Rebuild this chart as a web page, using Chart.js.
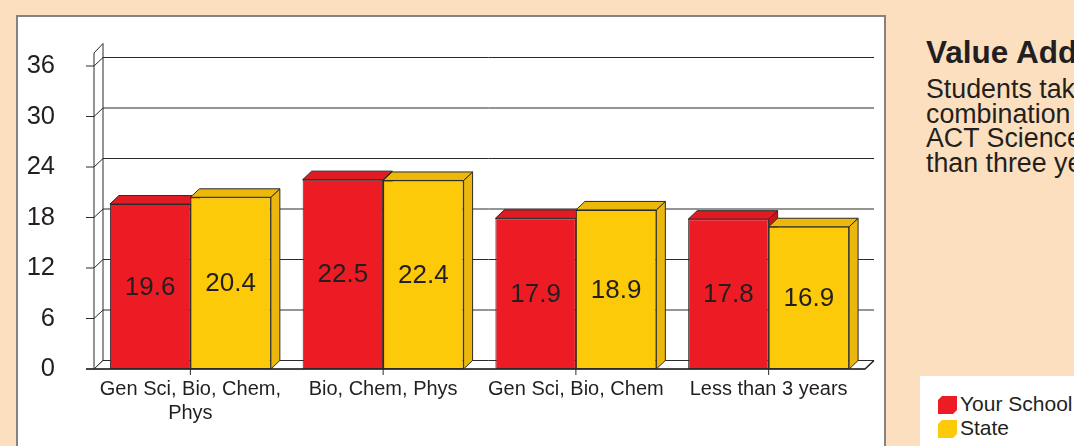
<!DOCTYPE html>
<html>
<head>
<meta charset="utf-8">
<script src="https://cdn.jsdelivr.net/npm/chart.js@4.4.1/dist/chart.umd.min.js"></script>
<style>
  html, body { margin:0; padding:0; width:1074px; height:446px; overflow:hidden; background:#fcdfbe; font-family: Arial, "Liberation Sans", Helvetica, sans-serif; color:#231f20; }
  #panel { position:absolute; left:16px; top:15px; width:870px; height:460px; background:#fff; border:2px solid #858280; box-sizing:border-box; }
  #chartWrap { position:absolute; left:0; top:0; width:1074px; height:446px; }
  .side { position:absolute; left:926px; white-space:nowrap; }
  #title { top:35px; font-weight:bold; font-size:31.5px; line-height:34px; }
  #body { top:77px; font-size:26.8px; line-height:24.7px; }
  #legend { position:absolute; left:920px; top:376px; width:200px; height:100px; background:#fff; }
  .li { position:absolute; left:40px; font-size:21px; line-height:24px; white-space:nowrap; }
  .mk { position:absolute; left:18px; width:19px; height:18px; clip-path:polygon(0 4px,4px 0,19px 0,19px 14px,15px 18px,0 18px); }
</style>
</head>
<body>
<div id="panel"></div>
<div class="side" id="title">Value Added</div>
<div class="side" id="body">Students taking this<br>combination of courses<br>ACT Science scores<br>than three years</div>
<div id="legend">
  <div class="mk" style="top:20px;background:#ed1c24"></div><div class="li" style="top:16px">Your School</div>
  <div class="mk" style="top:44px;background:#fdca0a"></div><div class="li" style="top:40px">State</div>
</div>
<div id="chartWrap"><canvas id="c" width="1074" height="446"></canvas></div>
<script>
const categories = [["Gen Sci, Bio, Chem,", "Phys"], "Bio, Chem, Phys", "Gen Sci, Bio, Chem", "Less than 3 years"];
const yourSchool = [19.6, 22.5, 17.9, 17.8];
const state = [20.4, 22.4, 18.9, 16.9];
const seriesNames = ["Your School", "State"];
const yTicks = [0, 6, 12, 18, 24, 30, 36];

const DX = 9, DY = 8.5;
const LINE = '#2b2b2b';
const faceColors = [
  { front:'#ed1c24', top:'#e01b23', side:'#c8161d' },
  { front:'#fdca0a', top:'#ecb90b', side:'#ebb70c' }
];

function poly(ctx, pts, fill) {
  ctx.beginPath();
  ctx.moveTo(pts[0][0], pts[0][1]);
  for (let i = 1; i < pts.length; i++) ctx.lineTo(pts[i][0], pts[i][1]);
  ctx.closePath();
  if (fill) { ctx.fillStyle = fill; ctx.fill(); }
  ctx.stroke();
}

const threeD = {
  id: 'threeD',
  beforeDatasetsDraw(chart) {
    const ctx = chart.ctx;
    const ys = chart.scales.y, xs = chart.scales.x;
    const L = chart.chartArea.left, R = chart.chartArea.right;
    const y0 = ys.getPixelForValue(0);
    const yTop = ys.getPixelForValue(36) - 13;
    ctx.save();
    ctx.strokeStyle = LINE;
    ctx.lineWidth = 1;
    poly(ctx, [[L, y0], [L, yTop], [L + DX, yTop - DY - 1], [L + DX, y0 - DY]], '#fff');
    yTicks.forEach(v => {
      const y = ys.getPixelForValue(v);
      ctx.beginPath();
      ctx.moveTo(L - 8, y); ctx.lineTo(L, y);
      ctx.lineTo(L + DX, y - DY); ctx.lineTo(R + DX, y - DY);
      ctx.stroke();
    });
    poly(ctx, [[L, y0], [L + DX, y0 - DY], [R + DX, y0 - DY], [R, y0]], '#fff');
    ctx.lineWidth = 1.6;
    ctx.beginPath(); ctx.moveTo(L - 8, y0); ctx.lineTo(R, y0); ctx.lineTo(R + DX, y0 - DY); ctx.stroke();
    ctx.lineWidth = 1;
    categories.forEach((c, i) => {
      const x = xs.getPixelForValue(i);
      ctx.beginPath(); ctx.moveTo(x, y0); ctx.lineTo(x, y0 + 6); ctx.stroke();
    });
    const metas = chart.data.datasets.map((d, di) => chart.getDatasetMeta(di));
    for (let i = 0; i < categories.length; i++) {
      metas.forEach((meta, di) => {
        const el = meta.data[i];
        const p = el.getProps(['x', 'y', 'base', 'width'], true);
        const l = p.x - p.width / 2, r = p.x + p.width / 2;
        const c = faceColors[di];
        poly(ctx, [[r, p.y], [r + DX, p.y - DY], [r + DX, p.base - DY], [r, p.base]], c.side);
        poly(ctx, [[l, p.y], [l + DX, p.y - DY], [r + DX, p.y - DY], [r, p.y]], c.top);
      });
    }
    ctx.restore();
  },
  afterDatasetsDraw(chart) {
    const ctx = chart.ctx;
    ctx.save();
    ctx.font = '26px Arial, "Liberation Sans", sans-serif';
    ctx.fillStyle = '#231f20';
    ctx.textAlign = 'center';
    ctx.textBaseline = 'middle';
    chart.data.datasets.forEach((ds, di) => {
      chart.getDatasetMeta(di).data.forEach((el, i) => {
        const p = el.getProps(['x', 'y', 'base'], true);
        ctx.fillText(ds.data[i].toFixed(1), p.x, (p.y + p.base) / 2 + 1);
      });
    });
    ctx.restore();
  }
};

new Chart(document.getElementById('c'), {
  type: 'bar',
  data: {
    labels: categories,
    datasets: [
      { label: seriesNames[0], data: yourSchool, backgroundColor: faceColors[0].front, borderColor: '#2b2b2b', borderWidth: 1, borderSkipped: false, categoryPercentage: 0.835, barPercentage: 1.0 },
      { label: seriesNames[1], data: state, backgroundColor: faceColors[1].front, borderColor: '#2b2b2b', borderWidth: 1, borderSkipped: false, categoryPercentage: 0.835, barPercentage: 1.0 }
    ]
  },
  options: {
    responsive: false,
    devicePixelRatio: 1,
    animation: false,
    layout: { padding: { top: 66, right: 209, bottom: 0, left: 0 } },
    plugins: { legend: { display: false }, tooltip: { enabled: false } },
    scales: {
      y: {
        min: 0, max: 36,
        afterFit: s => { s.width = 94; },
        afterBuildTicks: s => { s.ticks = yTicks.map(v => ({ value: v })); },
        grid: { display: false, drawTicks: false },
        border: { display: false },
        ticks: { padding: 39, color: '#231f20', font: { size: 25.5, family: 'Arial, "Liberation Sans", sans-serif' } }
      },
      x: {
        afterFit: s => { s.height = 77; },
        grid: { display: false, drawTicks: false },
        border: { display: false },
        ticks: { padding: 9, autoSkip: false, maxRotation: 0, color: '#231f20', font: { size: 20, lineHeight: 1.17, family: 'Arial, "Liberation Sans", sans-serif' } }
      }
    }
  },
  plugins: [threeD]
});
</script>
</body>
</html>
